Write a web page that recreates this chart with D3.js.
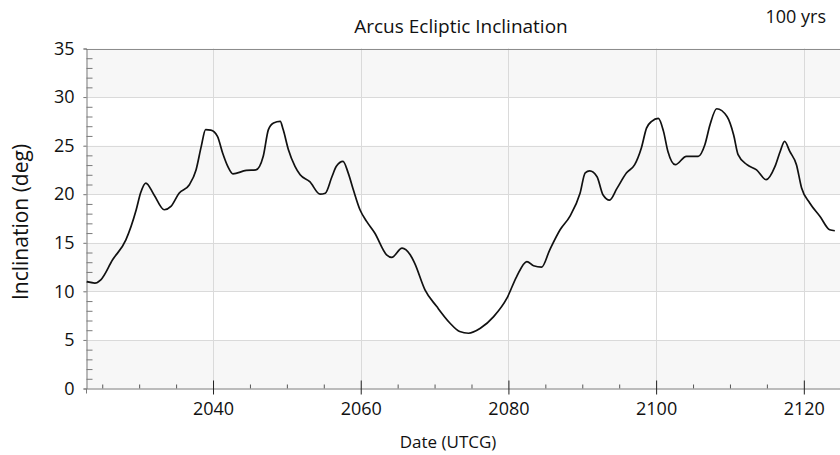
<!DOCTYPE html>
<html><head><meta charset="utf-8">
<script src="https://cdn.jsdelivr.net/npm/d3@7"></script>
<style>
html,body{margin:0;padding:0;background:#fff;}
svg{display:block;font-family:"Open Sans",sans-serif;}
</style></head>
<body><svg id="c" width="840" height="455"></svg>
<script>
const titleText = "Arcus Ecliptic Inclination";
const spanLabel = "100 yrs";
const xTitle = "Date (UTCG)";
const yTitle = "Inclination (deg)";
const xMajorTicks = [2040, 2060, 2080, 2100, 2120];
const yMajorTicks = [0, 5, 10, 15, 20, 25, 30, 35];
const years = [2022.9,2024.0,2024.8,2026.4,2028.2,2029.6,2030.2,2030.9,2032.0,2033.4,2034.3,2035.4,2036.8,2037.7,2038.4,2039.0,2039.7,2040.6,2041.3,2042.0,2042.7,2044.5,2045.8,2046.8,2047.5,2048.2,2049.1,2049.5,2050.2,2051.1,2051.8,2053.1,2054.5,2055.2,2056.1,2056.7,2057.6,2058.3,2059.0,2059.9,2060.8,2061.9,2063.5,2064.2,2065.6,2066.7,2067.3,2068.7,2070.3,2072.1,2073.4,2074.6,2076.2,2078.0,2079.8,2081.1,2082.5,2083.4,2084.5,2085.6,2087.0,2088.3,2089.7,2090.4,2091.0,2092.0,2092.8,2093.7,2094.7,2096.0,2097.1,2098.0,2098.7,2099.4,2100.3,2101.0,2101.6,2102.6,2104.1,2105.7,2106.6,2107.3,2108.2,2109.6,2110.5,2111.1,2112.3,2113.6,2114.9,2116.1,2116.8,2117.4,2118.1,2119.0,2119.7,2120.8,2122.2,2123.5,2124.2];
const inclination = [11.0,10.85,11.19,13.25,15.3,18.4,20.15,21.15,19.95,18.4,18.74,20.1,20.98,22.5,24.9,26.65,26.6,25.96,24.25,22.87,22.1,22.45,22.5,23.9,26.65,27.34,27.5,26.65,24.6,22.87,22.0,21.3,20.0,20.1,21.8,22.87,23.38,22.2,20.46,18.4,17.2,16.0,13.76,13.5,14.45,13.76,12.9,10.15,8.43,6.72,5.86,5.69,6.2,7.4,9.3,11.5,13.07,12.63,12.5,14.28,16.34,17.7,20.1,22.2,22.4,21.8,19.95,19.4,20.6,22.2,23.04,24.76,26.8,27.5,27.8,26.47,24.4,23.04,23.9,23.9,25.1,27.16,28.8,28.0,26.1,24.07,23.04,22.5,21.5,22.87,24.4,25.44,24.4,23.04,20.64,19.1,17.7,16.34,16.24];

const svg = d3.select("#c");
const L = 86, T = 48.5, R = 840, B = 388.5;
const x = d3.scaleLinear().domain([2022.8, 2124.9]).range([L, R]);
const y = d3.scaleLinear().domain([0, 35]).range([B, T]);

// bands
const bands = [[0,5],[10,15],[20,25],[30,35]];
svg.append("g").selectAll("rect").data(bands).join("rect")
  .attr("x", L).attr("width", R - L)
  .attr("y", d => y(d[1])).attr("height", d => y(d[0]) - y(d[1]))
  .attr("fill", "#f7f7f7");

// grid
const grid = svg.append("g").attr("stroke", "#dadada").attr("stroke-width", 1);
grid.selectAll(".h").data(yMajorTicks.filter(v => v > 0 && v < 35)).join("line")
  .attr("x1", L - 3).attr("x2", R).attr("y1", d => Math.round(y(d)) + 0.5).attr("y2", d => Math.round(y(d)) + 0.5);
grid.selectAll(".v").data(xMajorTicks).join("line")
  .attr("y1", T).attr("y2", B).attr("x1", d => Math.round(x(d)) + 0.5).attr("x2", d => Math.round(x(d)) + 0.5);

// top border
svg.append("line").attr("x1", L).attr("x2", R).attr("y1", Math.round(T) + 0.5).attr("y2", Math.round(T) + 0.5)
  .attr("stroke", "#8c8c8c");

// y axis
const yAxis = d3.axisLeft(y).tickValues(yMajorTicks).tickSize(3).tickPadding(9);
const gy = svg.append("g").attr("transform", `translate(${L + 0.5},0)`).call(yAxis);
gy.select(".domain").attr("stroke", "#7a7a7a");
gy.selectAll(".tick line").attr("stroke", "#7a7a7a");
gy.selectAll("text").attr("font-size", 18).attr("fill", "#111").attr("font-family", "Open Sans");
const yMinor = d3.range(0, 36).filter(v => v % 5 !== 0);
svg.append("g").attr("transform", `translate(${L + 0.5},0)`).call(d3.axisRight(y).tickValues(yMinor).tickSize(6).tickFormat(""))
  .call(g => { g.select(".domain").remove(); g.selectAll("line").attr("stroke", "#7a7a7a"); });

// x axis
const xMinor = d3.range(2025, 2125, 5).filter(v => v % 20 !== 0);
svg.append("g").attr("transform", `translate(0,${B})`).call(d3.axisTop(x).tickValues(xMinor).tickSize(4).tickFormat(""))
  .call(g => { g.select(".domain").remove(); g.selectAll("line").attr("stroke", "#555"); });
const gx = svg.append("g").attr("transform", `translate(0,${B})`)
  .call(d3.axisBottom(x).tickValues(xMajorTicks).tickFormat(d3.format("d")).tickSize(5).tickPadding(9));
gx.select(".domain").attr("stroke", "#7a7a7a");
gx.selectAll(".tick line").attr("stroke", "#222").attr("y1", -8).attr("y2", 6);
gx.selectAll("text").attr("font-size", 18).attr("fill", "#111").attr("font-family", "Open Sans");

// line
svg.append("path").datum(years.map((d, i) => [d, inclination[i]]))
  .attr("fill", "none").attr("stroke", "#111").attr("stroke-width", 1.7)
  .attr("stroke-linejoin", "round")
  .attr("d", d3.line().x(d => x(d[0])).y(d => y(d[1])).curve(d3.curveMonotoneX));

// titles
svg.append("text").attr("x", 461).attr("y", 33).attr("text-anchor", "middle")
  .attr("font-size", 19).attr("fill", "#111").text(titleText);
svg.append("text").attr("x", 826).attr("y", 23).attr("text-anchor", "end")
  .attr("font-size", 18).attr("fill", "#111").text(spanLabel);
svg.append("text").attr("x", 448).attr("y", 448).attr("text-anchor", "middle")
  .attr("font-size", 17).attr("fill", "#111").text(xTitle);
svg.append("text").attr("transform", "translate(28,222) rotate(-90)").attr("text-anchor", "middle")
  .attr("font-size", 21).attr("fill", "#111").text(yTitle);
</script></body></html>
